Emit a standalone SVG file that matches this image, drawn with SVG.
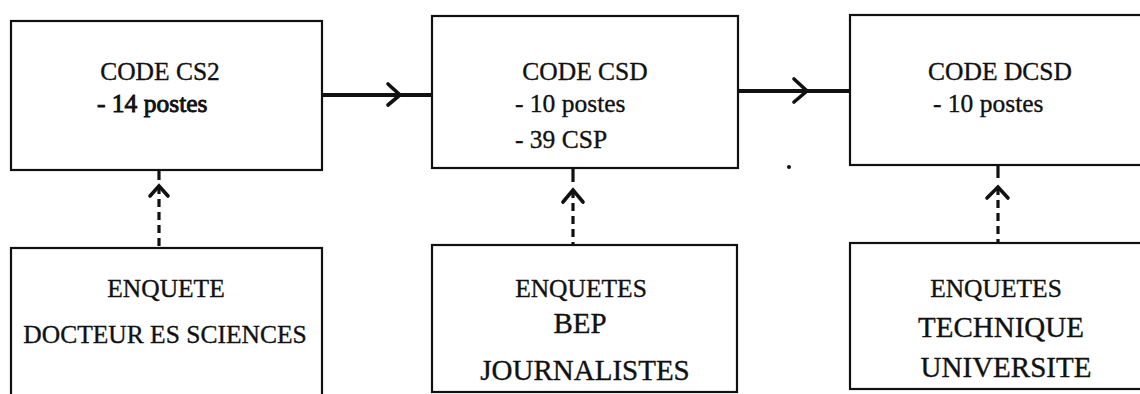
<svg xmlns="http://www.w3.org/2000/svg" width="1140" height="394" viewBox="0 0 1140 394">
<style>
.box{fill:#fff;stroke:#111;stroke-width:2.2}
.t{font-family:"Liberation Serif","Times New Roman",serif;font-size:25.5px;fill:#111;stroke:#111;stroke-width:0.35}
.m{text-anchor:middle}
.big{font-size:29px}
.heavy{stroke-width:0.9}
.link{stroke:#111;stroke-width:3.8;fill:none}
.dash{stroke:#111;stroke-width:3.2;fill:none;stroke-dasharray:8 5}
.head{stroke:#111;stroke-width:3.6;fill:none;stroke-linecap:round;stroke-linejoin:miter}
</style>
<rect width="1140" height="394" fill="#fff"/>
<g id="connectors">
<line class="link" x1="322" y1="95" x2="432" y2="95"/>
<polyline class="head" points="388,84 400,95 388,105"/>
<line class="link" x1="738" y1="91" x2="850" y2="91"/>
<polyline class="head" points="794,79 807,91 794,102"/>
<line class="link" x1="159" y1="170" x2="159" y2="180" style="stroke-width:3.2"/>
<line class="dash" x1="159" y1="186" x2="159" y2="248"/>
<polyline class="head" points="150,196 159,186 168,196"/>
<line class="link" x1="573" y1="168" x2="573" y2="182" style="stroke-width:3.2"/>
<line class="dash" x1="573" y1="190" x2="573" y2="245"/>
<polyline class="head" points="563,202 573,190 583,202"/>
<line class="link" x1="998" y1="165" x2="998" y2="178" style="stroke-width:3.2"/>
<line class="dash" x1="998" y1="187" x2="998" y2="243"/>
<polyline class="head" points="987,198 998,187 1008,198"/>
</g>
<g id="code-cs2">
<rect class="box" x="11" y="21" width="311" height="149"/>
<text class="t m" x="160" y="80">CODE CS2</text>
<text class="t heavy" x="97" y="112">- 14 postes</text>
</g>
<g id="code-csd">
<rect class="box" x="432" y="16" width="306" height="152"/>
<text class="t m" x="585" y="80">CODE CSD</text>
<text class="t" x="515" y="112">- 10 postes</text>
<text class="t" x="515" y="148">- 39 CSP</text>
</g>
<g id="code-dcsd">
<rect class="box" x="850" y="15" width="300" height="150"/>
<text class="t m" x="1000" y="80">CODE DCSD</text>
<text class="t" x="933" y="112">- 10 postes</text>
</g>
<g id="enquete-docteur">
<rect class="box" x="11" y="248" width="311" height="152"/>
<text class="t m" x="166" y="297">ENQUETE</text>
<text class="t m" x="165" y="343">DOCTEUR ES SCIENCES</text>
</g>
<g id="enquetes-bep">
<rect class="box" x="432" y="245" width="305" height="147"/>
<text class="t m" x="581" y="297">ENQUETES</text>
<text class="t m big" x="580" y="333">BEP</text>
<text class="t m big" x="585" y="380">JOURNALISTES</text>
</g>
<g id="enquetes-technique">
<rect class="box" x="850" y="243" width="300" height="146"/>
<text class="t m" x="996" y="297">ENQUETES</text>
<text class="t m big" x="1001" y="337">TECHNIQUE</text>
<text class="t m big" x="1006" y="377">UNIVERSITE</text>
</g>
<circle cx="789" cy="167" r="2" fill="#111"/>
</svg>
